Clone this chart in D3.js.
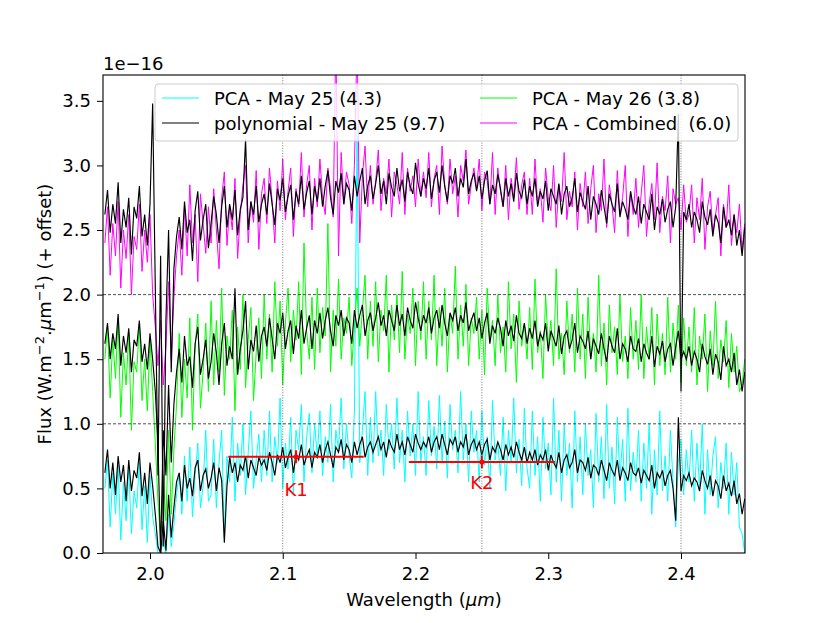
<!DOCTYPE html>
<html>
<head>
<meta charset="utf-8">
<script src="https://cdn.jsdelivr.net/npm/d3@7"></script>
<style>
  body { margin: 0; background: #fff; }
  text { font-family: "DejaVu Sans", sans-serif; }
</style>
</head>
<body>
<script>
// wavelength grid of the spectra (micron), one sample every 2 nm
const waveStart = 1.966, waveStep = 0.002;

// flux in units of 1e-18 W.m-2.um-1 (offsets included)
// each row holds 20 samples
const pcaMay25 = [
  50,72,20,62,30,68,10,55,25,66,15,48,35,70,18,52,8,60,28,15,
  0,0,10,0,30,5,22,45,62,30,75,40,82,28,60,85,35,52,95,40,
  45,88,35,70,95,12,75,55,105,40,85,60,100,45,78,110,50,72,92,55,
  95,60,110,55,90,70,120,50,85,65,105,45,95,80,115,55,90,108,62,100,
  75,110,60,90,70,115,55,95,80,120,65,100,75,58,110,330,70,95,125,60,
  105,70,125,75,95,60,115,80,100,65,120,70,95,55,110,75,100,60,125,70,
  90,60,118,75,98,65,122,70,102,58,115,80,95,62,125,72,100,55,110,78,
  95,55,110,68,90,50,118,72,85,60,105,48,95,70,120,62,88,52,112,66,
  50,110,60,90,40,105,65,85,45,120,55,95,40,100,60,85,35,110,55,90,
  45,100,60,80,35,108,55,90,42,115,50,82,38,105,58,88,40,112,48,78,
  55,95,40,85,50,100,30,80,45,110,48,75,40,95,55,20,70,88,45,80,
  55,95,40,85,50,100,30,80,45,75,90,35,70,50,85,30,78,45,70,20,
  15,0];

const polyLow = [
  62,80,50,70,45,75,55,68,40,72,48,64,58,78,44,62,38,70,52,30,
  5,0,25,2,45,12,35,55,62,40,68,50,58,44,66,72,48,60,65,50,
  58,70,48,66,56,8,52,74,62,70,55,68,64,75,58,72,66,60,74,68,
  72,64,78,70,60,76,70,82,66,74,80,62,76,72,84,68,75,80,66,78,
  74,84,70,80,86,76,66,82,78,88,72,84,80,70,86,76,84,90,74,82,
  86,78,84,90,80,86,74,88,82,78,92,80,86,76,90,84,78,92,85,80,
  86,82,90,78,86,90,80,92,84,76,88,84,90,78,86,82,92,76,84,88,
  80,86,76,84,88,72,82,78,86,80,72,84,76,82,74,86,78,72,82,70,
  78,72,80,68,76,72,80,64,76,70,66,78,62,72,76,66,70,80,62,72,
  70,64,74,58,68,66,60,72,64,56,70,64,60,72,56,66,62,56,70,62,
  60,66,54,64,60,56,68,50,62,58,64,52,60,64,50,25,105,48,60,56,
  62,52,58,55,48,64,56,50,60,44,56,52,42,60,48,54,44,56,38,46,
  30,42];

const pcaMay26 = [
  150,175,120,165,135,182,105,155,130,170,95,148,140,178,118,150,110,165,125,85,
  40,10,60,25,95,30,80,115,170,105,150,120,182,95,160,185,112,140,178,125,
  195,130,180,140,205,122,168,150,188,110,175,142,200,128,165,190,118,155,182,135,
  200,150,185,140,210,160,195,130,178,205,148,188,165,210,138,240,172,150,198,142,
  205,155,190,168,255,140,188,160,212,150,182,170,198,145,175,205,160,188,215,150,
  195,160,210,148,188,172,215,140,192,165,200,155,218,150,185,170,205,145,195,165,
  210,150,195,165,215,145,190,160,205,140,185,170,222,150,192,160,208,145,182,170,
  198,150,188,138,205,165,180,145,200,155,175,140,210,158,185,132,195,160,178,150,
  190,142,212,155,172,135,200,160,180,145,220,150,170,138,195,155,185,140,205,150,
  185,135,198,150,170,140,215,145,178,130,192,155,175,138,200,148,168,135,190,150,
  180,142,200,135,175,150,190,130,185,145,170,138,198,140,178,150,192,132,182,145,
  175,140,190,130,168,150,185,125,172,145,195,135,165,148,180,128,170,140,160,125,
  130,150];

const polyMid = [
  162,178,150,170,158,185,145,168,155,174,140,165,160,180,148,162,142,170,150,125,
  85,0,95,60,130,70,115,140,158,132,168,145,152,128,162,175,138,150,165,135,
  148,170,155,130,162,178,145,160,150,205,138,158,172,195,142,165,156,176,148,168,
  175,160,182,166,150,178,170,186,158,172,180,154,176,166,188,162,174,184,158,180,
  170,186,166,180,190,172,160,184,176,188,168,182,178,162,188,174,184,192,168,180,
  186,172,182,194,176,184,168,188,180,172,192,176,185,168,190,180,174,194,182,172,
  184,178,190,170,182,188,174,192,178,168,186,180,190,172,184,178,194,172,180,186,
  172,182,166,178,186,162,176,170,182,174,160,180,168,176,164,184,170,166,178,162,
  174,166,180,160,170,165,178,156,172,166,160,176,154,168,172,158,165,178,155,168,
  164,158,172,150,166,160,154,170,158,148,168,160,155,174,150,162,158,148,168,158,
  156,166,148,162,155,150,168,144,160,154,164,148,158,162,145,160,172,150,156,150,
  160,145,156,150,140,162,152,146,158,138,154,148,134,160,145,150,140,155,130,142,
  125,140];

const pcaCombined = [
  240,268,215,255,230,272,205,250,228,262,200,245,235,270,218,250,225,262,200,175,
  145,180,130,160,210,150,198,230,250,215,268,230,285,240,262,210,278,255,232,268,
  240,282,250,220,275,295,238,268,250,290,228,262,285,300,240,272,256,296,235,278,
  290,255,298,272,240,288,265,305,258,280,298,245,282,268,310,260,285,300,250,290,
  268,305,275,262,298,282,260,400,230,310,270,295,285,255,300,400,240,292,315,268,
  300,270,288,312,265,290,278,305,260,295,285,270,310,262,298,280,292,268,305,276,
  295,275,310,268,290,300,262,315,285,270,305,278,292,260,300,288,312,270,285,298,
  282,305,265,295,288,270,310,262,298,280,268,300,258,290,275,306,266,285,295,262,
  290,262,305,270,282,256,298,275,265,300,252,285,272,310,258,280,268,295,250,286,
  268,295,255,282,300,248,278,265,305,252,285,270,248,296,262,275,300,245,280,262,
  290,252,278,300,245,270,286,258,302,248,276,265,292,240,282,270,275,250,285,256,
  262,285,240,275,258,290,235,268,280,248,262,275,230,270,252,285,238,262,248,270,
  235,255];

const polyTop = [
  262,281,248,270,255,287,240,266,252,275,231,268,259,284,245,262,238,270,348,205,
  60,230,5,180,250,140,220,245,260,235,272,248,258,226,265,280,242,258,270,236,
  255,276,262,240,268,284,252,270,258,281,246,266,275,320,250,272,262,284,256,270,
  278,262,286,270,254,282,273,290,264,276,285,258,280,270,292,266,279,288,262,284,
  272,290,268,284,296,275,262,288,279,294,270,286,281,265,292,276,288,298,270,284,
  292,274,286,300,278,288,270,294,283,276,298,280,289,272,295,284,278,302,286,276,
  290,282,298,274,288,295,279,300,284,272,292,286,298,276,290,283,305,278,288,294,
  280,292,274,288,296,270,285,278,293,282,268,290,276,286,272,294,280,275,289,270,
  284,276,290,268,280,274,288,265,282,276,270,286,262,278,284,268,275,290,264,279,
  272,266,284,258,276,270,262,281,268,255,278,270,264,286,260,272,266,258,280,268,
  262,276,255,270,264,258,278,250,268,262,274,256,266,272,252,268,340,125,264,258,
  270,252,264,258,248,272,260,254,266,245,262,256,240,268,252,258,246,262,238,250,
  230,252];

// legend entries (column-major, two columns)
const legendLabels = ["PCA - May 25 (4.3)", "polynomial - May 25 (9.7)", "PCA - May 26 (3.8)", "PCA - Combined  (6.0)"];
const legendColors = ["#00ffff", "#000000", "#00ff00", "#ff00ff"];

// photometric bands (flux in 1e-16)
const bandNames = ["K1", "K2"];
const bandCenters = [2.110, 2.250];
const bandHalfWidths = [0.051, 0.055];
const bandFlux = [0.745, 0.705];
const bandErr = [0.05, 0.05];
const bandLabelFlux = [0.44, 0.495];

// axis ticks
const xTicks = [2.0, 2.1, 2.2, 2.3, 2.4];
const yTicks = [0.0, 0.5, 1.0, 1.5, 2.0, 2.5, 3.0, 3.5];
const vGrid = [2.1, 2.25, 2.4];
const hGrid = [1.0, 2.0];

const width = 830, height = 623;
const plot = {left: 103, right: 745, top: 75, bottom: 553};
const fs = 18;

const x = d3.scaleLinear().domain([1.9646, 2.4482]).range([plot.left, plot.right]);
const y = d3.scaleLinear().domain([0, 3.7]).range([plot.bottom, plot.top]);

const svg = d3.select("body").append("svg")
    .attr("width", width)
    .attr("height", height);

svg.append("defs").append("clipPath").attr("id", "clip")
  .append("rect")
    .attr("x", plot.left).attr("y", plot.top)
    .attr("width", plot.right - plot.left)
    .attr("height", plot.bottom - plot.top);

const inner = svg.append("g").attr("clip-path", "url(#clip)");

// spectra, drawn in the same order as the original
const series = [
  {vals: pcaMay25, color: "#00ffff", w: 1},
  {vals: polyLow, color: "#000000", w: 1.15},
  {vals: pcaMay26, color: "#00ff00", w: 1},
  {vals: polyMid, color: "#000000", w: 1.15},
  {vals: pcaCombined, color: "#ff00ff", w: 1},
  {vals: polyTop, color: "#000000", w: 1.15}
];

const line = d3.line()
    .x((d, i) => x(waveStart + i * waveStep))
    .y(d => y(d / 100));

inner.selectAll("path.spec")
  .data(series)
  .enter().append("path")
    .attr("class", "spec")
    .attr("d", d => line(d.vals))
    .attr("fill", "none")
    .attr("stroke", d => d.color)
    .attr("stroke-width", d => d.w);

// grid lines
inner.selectAll("line.vgrid")
  .data(vGrid)
  .enter().append("line")
    .attr("x1", d => x(d)).attr("x2", d => x(d))
    .attr("y1", plot.top).attr("y2", plot.bottom)
    .attr("stroke", "#555")
    .attr("stroke-width", 0.8)
    .attr("stroke-dasharray", "1,1.6");

inner.selectAll("line.hgrid")
  .data(hGrid)
  .enter().append("line")
    .attr("x1", plot.left).attr("x2", plot.right)
    .attr("y1", d => y(d)).attr("y2", d => y(d))
    .attr("stroke", "#222")
    .attr("stroke-width", 0.8)
    .attr("stroke-dasharray", "3,2");

// bands with error bars
const bands = bandNames.map((n, i) => ({name: n, c: bandCenters[i], hw: bandHalfWidths[i],
  f: bandFlux[i], e: bandErr[i], lf: bandLabelFlux[i]}));

const bg = inner.selectAll("g.band").data(bands).enter().append("g").attr("class", "band");
bg.append("line")
    .attr("x1", d => x(d.c - d.hw)).attr("x2", d => x(d.c + d.hw))
    .attr("y1", d => y(d.f)).attr("y2", d => y(d.f))
    .attr("stroke", "red").attr("stroke-width", 2);
bg.append("line")
    .attr("x1", d => x(d.c)).attr("x2", d => x(d.c))
    .attr("y1", d => y(d.f - d.e)).attr("y2", d => y(d.f + d.e))
    .attr("stroke", "red").attr("stroke-width", 2);
bg.append("circle")
    .attr("cx", d => x(d.c)).attr("cy", d => y(d.f))
    .attr("r", 2.5).attr("fill", "red");
bg.append("text")
    .attr("x", d => x(d.c)).attr("y", d => y(d.lf))
    .attr("text-anchor", "middle")
    .attr("font-size", fs)
    .attr("fill", "red")
    .text(d => d.name);

// axes
const xAxis = svg.append("g")
    .attr("transform", `translate(0,${plot.bottom})`)
    .call(d3.axisBottom(x).tickValues(xTicks).tickFormat(d3.format(".1f")).tickSize(6).tickPadding(8));
const yAxis = svg.append("g")
    .attr("transform", `translate(${plot.left},0)`)
    .call(d3.axisLeft(y).tickValues(yTicks).tickFormat(d3.format(".1f")).tickSize(6).tickPadding(6));

[xAxis, yAxis].forEach(a => {
  a.select(".domain").remove();
  a.selectAll("text").attr("font-size", fs).attr("fill", "#000")
    .style("font-family", "'DejaVu Sans', sans-serif");
  a.selectAll("line").attr("stroke", "#000").attr("stroke-width", 1);
});

// frame
svg.append("rect")
    .attr("x", plot.left).attr("y", plot.top)
    .attr("width", plot.right - plot.left).attr("height", plot.bottom - plot.top)
    .attr("fill", "none").attr("stroke", "#000").attr("stroke-width", 1.1);

// offset text
svg.append("text")
    .attr("x", plot.left).attr("y", 70)
    .attr("font-size", fs)
    .text("1e\u221216");

// axis labels
const xl = svg.append("text")
    .attr("x", (plot.left + plot.right) / 2).attr("y", 606)
    .attr("text-anchor", "middle").attr("font-size", fs);
xl.append("tspan").text("Wavelength (");
xl.append("tspan").attr("font-style", "italic").text("\u03bcm");
xl.append("tspan").text(")");

const yl = svg.append("text")
    .attr("transform", `translate(51,${(plot.top + plot.bottom) / 2}) rotate(-90)`)
    .attr("text-anchor", "middle").attr("font-size", fs);
yl.append("tspan").text("Flux (W.m");
yl.append("tspan").attr("font-size", 13).attr("dy", -7).text("\u22122");
yl.append("tspan").attr("dy", 7).text(".");
yl.append("tspan").attr("font-style", "italic").text("\u03bc");
yl.append("tspan").text("m");
yl.append("tspan").attr("font-size", 13).attr("dy", -7).text("\u22121");
yl.append("tspan").attr("dy", 7).text(") (+ offset)");

// legend
const legend = svg.append("g");
legend.append("rect")
    .attr("x", 155).attr("y", 84)
    .attr("width", 583).attr("height", 57)
    .attr("rx", 3)
    .attr("fill", "#fff").attr("fill-opacity", 0.8)
    .attr("stroke", "#ccc").attr("stroke-width", 1);

const colX = [162, 480];
const rowY = [98, 123];
const items = legend.selectAll("g.item")
  .data(legendLabels.map((l, i) => ({label: l, color: legendColors[i], col: Math.floor(i / 2), row: i % 2})))
  .enter().append("g").attr("class", "item")
    .attr("transform", d => `translate(${colX[d.col]},${rowY[d.row]})`);
items.append("line")
    .attr("x1", 0).attr("x2", 37)
    .attr("stroke", d => d.color).attr("stroke-width", 1);
items.append("text")
    .attr("x", 52).attr("y", 6.5)
    .attr("font-size", fs)
    .attr("xml:space", "preserve")
    .style("white-space", "pre")
    .text(d => d.label);
</script>
</body>
</html>
